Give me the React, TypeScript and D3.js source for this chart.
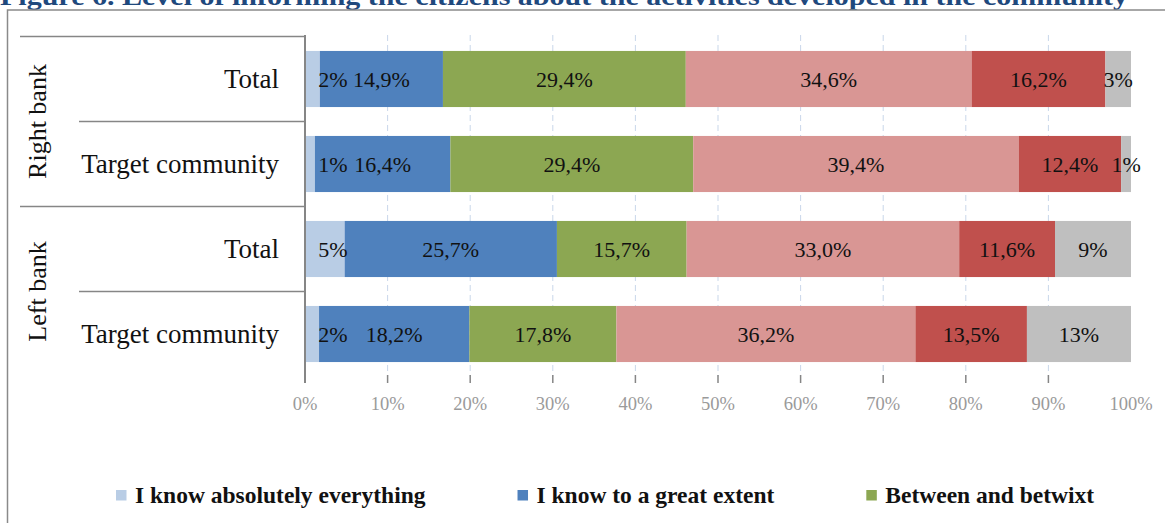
import React from 'react';
import * as d3 from 'd3';

// ---------- data ----------
const groupNames = ['Right bank', 'Left bank'];
const rowGroups = ['Right bank', 'Right bank', 'Left bank', 'Left bank'];
const rowLabels = ['Total', 'Target community', 'Total', 'Target community'];
const rowIds = ['rb-total', 'rb-target', 'lb-total', 'lb-target'];

const seriesKeys = ['s1', 's2', 's3', 's4', 's5', 's6'];
const s1 = [1.8, 1.2, 4.8, 1.7];
const s2 = [14.9, 16.4, 25.7, 18.2];
const s3 = [29.4, 29.4, 15.7, 17.8];
const s4 = [34.6, 39.4, 33.0, 36.2];
const s5 = [16.2, 12.4, 11.6, 13.5];
const s6 = [3.1, 1.2, 9.2, 12.6];
const seriesValues = [s1, s2, s3, s4, s5, s6];
const seriesColors = ['#B9CDE5', '#4F81BD', '#8CA752', '#D99694', '#C0504D', '#BFBFBF'];
const integerLabelSeries = ['s1', 's6'];

const legendLabels = ['I know absolutely everything', 'I know to a great extent', 'Between and betwixt'];
const xTicks = [0, 10, 20, 30, 40, 50, 60, 70, 80, 90, 100];
const tickMarks = [0, 10, 20, 30, 40, 50, 60, 70, 80, 90];
const gridTicks = [10, 20, 30, 40, 50, 60, 70, 80, 90];

const title = 'Figure 6. Level of informing the citizens about the activities developed in the community';

// ---------- layout ----------
const W = 1165;
const H = 523;
const plotLeft = 305;
const plotRight = 1131;
const plotTop = 36.5;
const plotBottom = 376.5;
const serif = "'Liberation Serif', 'Times New Roman', serif";

const table = rowIds.map((id, i) => {
  const o: any = { id };
  seriesKeys.forEach((k, j) => (o[k] = seriesValues[j][i]));
  return o;
});

const x = d3.scaleLinear().domain([0, 100]).range([plotLeft, plotRight]);
const y = d3.scaleBand<string>().domain(rowIds).range([plotTop, plotBottom]).paddingInner(0.34).paddingOuter(0.17);
const stacked = d3.stack<any>().keys(seriesKeys)(table);

const fmtInt = d3.format('.0f');
const fmtDec = d3.format('.1f');
function labelText(key: string, v: number) {
  return integerLabelSeries.includes(key) ? fmtInt(v) + '%' : fmtDec(v).replace('.', ',') + '%';
}

function measure(text: string, font: string) {
  const c = document.createElement('canvas').getContext('2d');
  if (!c) return text.length * 10;
  c.font = font;
  return c.measureText(text).width;
}

export default function App() {
  const step = y.step();
  const legendFont = `bold 23.5px ${serif}`;
  let lx = 116;
  const legendItems = legendLabels.map((lab, i) => {
    const item = { lab, x: lx, color: seriesColors[i] };
    lx += 19 + measure(lab, legendFont) + 92;
    return item;
  });

  return (
    <svg width={W} height={H} style={{ position: 'absolute', left: 0, top: 0, background: '#fff' }}>
      {/* title (clipped at top, as in the source) */}
      <text x={0} y={5} fontFamily={serif} fontWeight="bold" fontSize={26} fill="#1F497D"
        textLength={1128} lengthAdjust="spacingAndGlyphs">{title}</text>
      {/* frame */}
      <rect x={7.5} y={10} width={1300} height={700} fill="none" stroke="#8a8a8a" strokeWidth={1.5} />

      {/* gridlines */}
      {gridTicks.map(t => (
        <line key={'g' + t} x1={x(t)} x2={x(t)} y1={plotTop - 1.5} y2={plotBottom} stroke="#C9D7EA" strokeWidth={1} strokeDasharray="6,4" />
      ))}

      {/* bars */}
      {stacked.map((layer, j) => (
        <g key={layer.key}>
          {layer.map((d, i) => (
            <rect key={rowIds[i]} x={x(d[0])} y={y(rowIds[i])} width={x(d[1]) - x(d[0])} height={y.bandwidth()} fill={seriesColors[j]} />
          ))}
        </g>
      ))}

      {/* data labels */}
      {stacked.map((layer, j) => (
        <g key={'l' + layer.key}>
          {layer.map((d, i) => {
            let cx = (x(d[0]) + x(d[1])) / 2;
            if (j === 0) cx = Math.max(cx, x(0) + 28);
            const cy = (y(rowIds[i]) as number) + y.bandwidth() / 2;
            return (
              <text key={rowIds[i]} x={cx} y={cy + 7.5} textAnchor="middle" fontFamily={serif} fontSize={22} fill="#111">
                {labelText(layer.key, d[1] - d[0])}
              </text>
            );
          })}
        </g>
      ))}

      {/* category axis */}
      <line x1={plotLeft} x2={plotLeft} y1={plotTop - 1.5} y2={plotBottom + 6.5} stroke="#868686" strokeWidth={2} />
      {rowIds.map((id, i) => {
        const top = (y(id) as number) - y.paddingInner() * step / 2;
        const first = i === 0 || rowGroups[i] !== rowGroups[i - 1];
        return (
          <line key={'sep' + id} x1={first ? 20 : 79} x2={plotLeft} y1={top} y2={top} stroke="#868686" strokeWidth={1.5} />
        );
      })}
      {rowIds.map((id, i) => (
        <text key={'cat' + id} x={279} y={(y(id) as number) + y.bandwidth() / 2 + 8.5} textAnchor="end" fontFamily={serif} fontSize={27} fill="#111">
          {rowLabels[i]}
        </text>
      ))}
      {groupNames.map(g => {
        const ids = rowIds.filter((_, i) => rowGroups[i] === g);
        const top = (y(ids[0]) as number) - y.paddingInner() * step / 2;
        const bottom = (y(ids[ids.length - 1]) as number) + y.bandwidth() + y.paddingInner() * step / 2;
        const cy = (top + bottom) / 2;
        return (
          <text key={'grp' + g} transform={`translate(46,${cy}) rotate(-90)`} textAnchor="middle" fontFamily={serif} fontSize={26} fill="#111">
            {g}
          </text>
        );
      })}

      {/* value axis */}
      {tickMarks.map(t => (
        <line key={'t' + t} x1={x(t)} x2={x(t)} y1={plotBottom - 1.5} y2={plotBottom + 6.5} stroke="#868686" strokeWidth={1.5} />
      ))}
      {xTicks.map(t => (
        <text key={'tl' + t} x={x(t)} y={410} textAnchor="middle" fontFamily={serif} fontSize={18.5} fill="#9a9a9a">
          {t + '%'}
        </text>
      ))}

      {/* legend */}
      {legendItems.map(it => (
        <g key={'lg' + it.lab}>
          <rect x={it.x} y={490} width={10.5} height={10.5} fill={it.color} />
          <text x={it.x + 19} y={503} fontFamily={serif} fontWeight="bold" fontSize={23.5} fill="#111">{it.lab}</text>
        </g>
      ))}
    </svg>
  );
}
